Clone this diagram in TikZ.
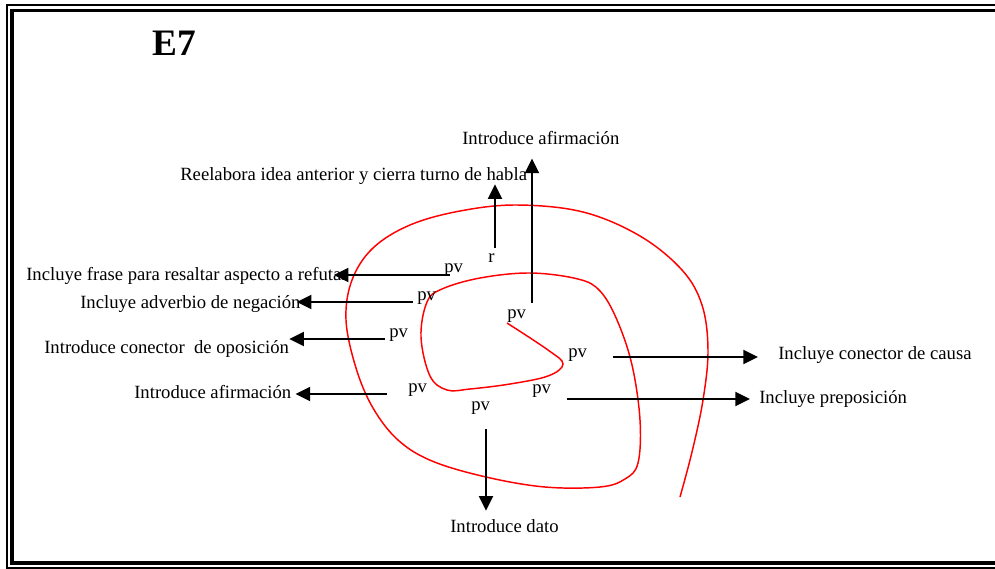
\documentclass[tikz,border=0pt]{standalone}
\usepackage{fontspec}
\setmainfont{Liberation Serif}
\usetikzlibrary{arrows.meta}

\begin{document}
\begin{tikzpicture}[
    x=0.75pt, y=-0.75pt,
    font=\fontsize{14}{17}\selectfont,
    txt/.style={
		inner sep=0pt,
		anchor=base west
	},
	pvlabel/.style={
		inner sep=0pt,
		anchor=base west
	},
	arr/.style={
		draw,
		line width=1.5pt,
		-{Triangle[length=11pt,width=10.5pt]}
	},
	spiral/.style={
		draw=red,
		line width=1.1pt
	}
  ]
  \useasboundingbox (0,0) rectangle (995,568);
  % double frame
  \draw [line width=1.5pt] (995,5) -- (7,5) -- (7,567.5) -- (995,567.5);
  \draw [line width=2.6pt] (995,10.5) -- (12,10.5) -- (12,563) -- (995,563);

  \node [txt, font=\fontsize{28}{30}\selectfont\bfseries] (title) at (152,55) {E7};

  % the red spiral
  \draw [spiral] plot [smooth, tension=0.6] coordinates {
    (507,323) (548,350) (563,364) (548,376) (510,384) (470,389) (447,390)
    (430,376) (421,337) (427,302) (442,289) (480,278) (530,273) (578,279)
    (600,291) (617,320) (632,365) (640,420) (638,463) (625,479) (600,487)
    (545,487) (486,477) (432,461) (398,440) (373,408) (356,368) (346,320)
    (352,280) (373,248) (410,225) (460,211) (517,205) (583,212) (640,236)
    (682,270) (702,305) (708,350) (703,400) (692,452) (680,497)};

  % texts
  \node [txt] (afirm1) at (462,144) {Introduce afirmación};
  \node [txt] (reelab) at (180,180) {Reelabora idea anterior y cierra turno de habla};
  \node [txt] (frase) at (26,280) {Incluye frase para resaltar aspecto a refutar};
  \node [txt] (negac) at (80,308) {Incluye adverbio de negación};
  \node [txt] (oposic) at (44,353) {Introduce conector~ de oposición};
  \node [txt] (afirm2) at (134,398) {Introduce afirmación};
  \node [txt] (causa) at (778,359) {Incluye conector de causa};
  \node [txt] (prepos) at (759,403) {Incluye preposición};
  \node [txt] (dato) at (450,532) {Introduce dato};

  % labels on the spiral
  \node [pvlabel] (pv1) at (444,272) {pv};
  \node [pvlabel] (pv2) at (417,300) {pv};
  \node [pvlabel] (pv3) at (389,337) {pv};
  \node [pvlabel] (pv4) at (408,392) {pv};
  \node [pvlabel] (pv5) at (471,410) {pv};
  \node [pvlabel] (pv6) at (532,393) {pv};
  \node [pvlabel] (pv7) at (568,357) {pv};
  \node [pvlabel] (pv8) at (507,318) {pv};
  \node [pvlabel] (rlab) at (488,262) {r};

  \coordinate (s1) at (450,275);
  \coordinate (s2) at (413,302);
  \coordinate (s3) at (385,339);
  \coordinate (s4) at (387,394);
  \coordinate (s5) at (486,429);
  \coordinate (s6) at (567,399);
  \coordinate (s7) at (613,357);
  \coordinate (s8) at (532,303);
  \coordinate (s9) at (495,248);

  \draw [arr, shorten >=-10.5pt] (s1) -- (s1 -| frase.east);
  \draw [arr, shorten >=-3pt] (s2) -- (s2 -| negac.east);
  \draw [arr] (s3) -- (s3 -| oposic.east);
  \draw [arr, shorten >=3pt] (s4) -- (s4 -| afirm2.east);
  \draw [arr, shorten >=6pt] (s5) -- (s5 |- dato.north);
  \draw [arr, shorten >=6.75pt] (s6) -- (s6 -| prepos.west);
  \draw [arr, shorten >=15pt] (s7) -- (s7 -| causa.west);
  \draw [arr, shorten >=10.5pt] (s8) -- (s8 |- afirm1.south);
  \draw [arr] (s9) -- (s9 |- reelab.south);

\end{tikzpicture}
\end{document}
